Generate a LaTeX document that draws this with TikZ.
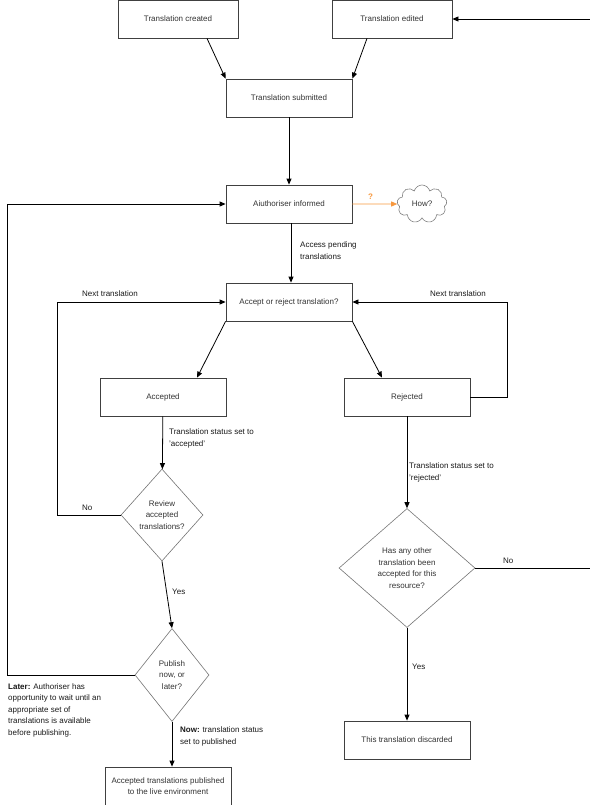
\documentclass[tikz,border=0pt]{standalone}
\usepackage{fontspec}
\setmainfont{Liberation Sans}
\usetikzlibrary{arrows.meta,shapes.geometric,shapes.symbols}
\definecolor{qorange}{RGB}{247,152,62}

\begin{document}
\begin{tikzpicture}[x=1bp, y=-1bp,
		every node/.style={font=\fontsize{8bp}{11.5bp}\selectfont, text=black!80},
		stepbox/.style={draw=black!75, line width=0.8bp, fill=white, minimum width=126bp, minimum height=38bp, inner sep=0pt, align=center},
		decision/.style={diamond, draw=black!55, line width=0.6bp, inner sep=0pt, align=center},
		note/.style={anchor=west, align=left, text=black!90, inner sep=0pt},
		arr/.style={-{Triangle[length=6bp,width=5bp]}, line width=0.8bp}]
	\useasboundingbox (0,0) rectangle (590,805);

	% Boxes
	\node[stepbox, minimum width=120bp] (created) at (178,19) {Translation created};
	\node[stepbox, minimum width=120bp] (edited) at (392,19) {Translation edited};
	\node[stepbox] (submitted) at (289,98) {Translation submitted};
	\node[stepbox] (authoriser) at (289,204) {Aiuthoriser informed};
	\node[cloud, cloud puffs=9, draw=black!50, line width=0.6bp, minimum width=50bp, minimum height=38bp, inner sep=0pt] (how) at (422,204) {How?};
	\node[stepbox] (accept) at (289,302) {Accept or reject translation?};
	\node[stepbox] (accepted) at (163,397) {Accepted};
	\node[stepbox] (rejected) at (407,397) {Rejected};
	\node[stepbox] (discarded) at (407,740) {This translation discarded};
	\node[stepbox] (published) at (168,786) {Accepted translations published\\to the live environment};

	% Decisions
	\node[decision, minimum width=82bp, minimum height=92bp] (review) at (162,515) {Review\\accepted\\translations?};
	\node[decision, minimum width=136bp, minimum height=119bp] (other) at (407,568) {Has any other\\translation been\\accepted for this\\resource?};
	\node[decision, minimum width=74bp, minimum height=93bp] (publish) at (172,675) {Publish\\now, or\\later?};

	% Loose ends
	\coordinate (edgein) at (590,19);
	\coordinate (farleft) at (7,204);
	\coordinate (nextl) at (57,302);
	\coordinate (nextr) at (507,302);
	\coordinate (noend) at (590,568);

	% Connectors
	\draw[arr] ([xshift=29bp]created.south) -- (submitted.north west);
	\draw[arr] ([xshift=-25bp]edited.south) -- (submitted.north east);
	\draw[arr] (edgein) -- (edited.east);
	\draw[arr] (submitted) -- (authoriser);
	\draw[arr, qorange] (authoriser) -- (how);
	\draw[arr] ([xshift=2bp]authoriser.south) -- ([xshift=2bp]accept.north);
	\draw[arr] (accept.south west) -- ([xshift=34bp]accepted.north);
	\draw[arr] (accept.south east) -- ([xshift=-25bp]rejected.north);
	\draw[arr] (accepted) -- (review);
	\draw[arr] (rejected) -- (other);
	\draw[arr] (review.south) -- (publish.north);
	\draw[arr] (publish.south) -- (publish.south |- published.north);
	\draw[arr] (other.south) -- (discarded.north);
	\draw[arr] (review.west) -| (nextl) -- (accept.west);
	\draw[arr] (rejected.east) -| (nextr) -- (accept.east);
	\draw[arr] (publish.west) -| (farleft) -- (authoriser.west);
	\draw[line width=0.8bp] (other.east) -- (noend);

	% Labels
	\node[note, text=qorange, font=\fontsize{8bp}{11.5bp}\selectfont\bfseries] (qmark) at (368,197) {?};
	\node[note] (lbpending) at (300,250.5) {Access pending\\translations};
	\node[note] (lbnextl) at (82,294) {Next translation};
	\node[note] (lbnextr) at (430,294) {Next translation};
	\node[note] (lbaccepted) at (169,438.5) {Translation status set to\\'accepted'};
	\node[note] (lbrejected) at (409,472.5) {Translation status set to\\'rejected'};
	\node[note] (lbnol) at (82,508) {No};
	\node[note] (lbnor) at (503,561) {No};
	\node[note] (lbyesl) at (172,592) {Yes};
	\node[note] (lbyesr) at (412,667) {Yes};
	\node[note] (lblater) at (8,710) {\textbf{Later:} Authoriser has\\opportunity to wait until an\\appropriate set of\\translations is available\\before publishing.};
	\node[note] (lbnow) at (180,736.5) {\textbf{Now:} translation status\\set to published};
\end{tikzpicture}
\end{document}
